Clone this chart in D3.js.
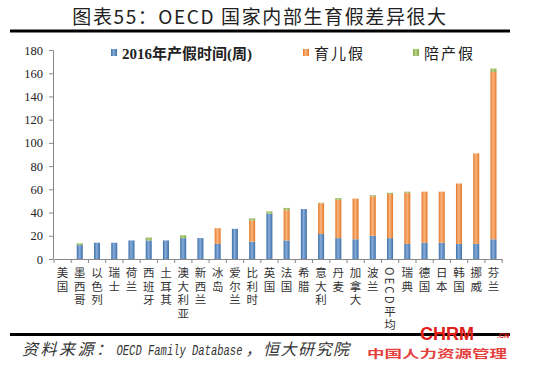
<!DOCTYPE html>
<html>
<head>
  <meta charset="utf-8">
  <script src="https://d3js.org/d3.v7.min.js"></script>
  <style>
    body { margin: 0; background: #fff; }
    svg { display: block; }
  </style>
</head>
<body>
<div id="chart"></div>
<script>
  // data (weeks)
  var countries = ["美国","墨西哥","以色列","瑞士","荷兰","西班牙","土耳其","澳大利亚","新西兰","冰岛","爱尔兰","比利时","英国","法国","希腊","意大利","丹麦","加拿大","波兰","OECD平均","瑞典","德国","日本","韩国","挪威","芬兰"];
  var maternity = [0,12,14,14,16,16,16,18,18,13,26,15,39,16,43,21.5,18,17,20,18,13,14,14,13,13,17];
  var parental  = [0,0,0,0,0,0,0,0,0,13.5,0,18,0,26,0,26.5,33,35,34,38,44,44,44,52,78,144];
  var paternity = [0,1.5,0,0,0,2.5,0,2.5,0,0,0,2,2,2,0,0.5,1.5,0,1,1,1,0,0,0,0,3];
  var seriesNames = ["2016年产假时间(周)", "育儿假", "陪产假"];
  var yTicks = [0,20,40,60,80,100,120,140,160,180];

  var W = 550, H = 371;
  var svg = d3.select("#chart").append("svg").attr("width", W).attr("height", H);

  // gradients to mimic the shaded excel bars
  var colors = [["#3d6fa8", "#86acd9"], ["#e4782a", "#fbb57d"], ["#86a84a", "#b9d386"]];
  var defs = svg.append("defs");
  colors.forEach(function(c, i) {
    var gr = defs.append("linearGradient").attr("id", "g" + i)
      .attr("x1", 0).attr("x2", 1).attr("y1", 0).attr("y2", 0);
    gr.append("stop").attr("offset", "0%").attr("stop-color", c[0]);
    gr.append("stop").attr("offset", "45%").attr("stop-color", c[1]);
    gr.append("stop").attr("offset", "100%").attr("stop-color", c[0]);
  });

  // title + rules
  svg.append("text").attr("x", 260).attr("y", 24).attr("text-anchor", "middle")
    .style("font-family", "'Noto Sans CJK SC'").style("font-size", "19px")
    .style("letter-spacing", "1.6px").attr("fill", "#222")
    .text("图表55：OECD 国家内部生育假差异很大");
  svg.append("rect").attr("x", 10).attr("y", 29.5).attr("width", 500).attr("height", 3).attr("fill", "#000");
  svg.append("rect").attr("x", 10).attr("y", 333).attr("width", 500).attr("height", 3).attr("fill", "#000");

  // scales
  var x = d3.scaleBand().domain(countries).range([54, 502]).paddingInner(0.65).paddingOuter(0.32);
  var y = d3.scaleLinear().domain([0, 180]).range([259, 50]);

  var rows = countries.map(function(c, i) {
    return {name: c, m: maternity[i], p: parental[i], f: paternity[i]};
  });
  var stack = d3.stack().keys(["m", "p", "f"])(rows);

  var g = svg.append("g");
  stack.forEach(function(layer, i) {
    g.selectAll(null).data(layer.filter(function(d) { return d[1] > d[0]; })).enter().append("rect")
      .attr("x", function(d) { return x(d.data.name); })
      .attr("width", x.bandwidth())
      .attr("y", function(d) { return y(d[1]); })
      .attr("height", function(d) { return y(d[0]) - y(d[1]); })
      .attr("fill", "url(#g" + i + ")");
  });

  // y axis
  var yAxis = svg.append("g").attr("transform", "translate(53,0)")
    .call(d3.axisLeft(y).tickValues(yTicks).tickSize(4).tickPadding(6));
  // x axis with ticks at band boundaries
  var xAxis = svg.append("g").attr("transform", "translate(0,259)")
    .call(d3.axisBottom(x).tickSize(0).tickFormat(""));
  var step = x.step();
  svg.append("g").selectAll("line").data(d3.range(countries.length + 1)).enter().append("line")
    .attr("x1", function(i) { return 54 + i * step; })
    .attr("x2", function(i) { return 54 + i * step; })
    .attr("y1", 259).attr("y2", 263).attr("stroke", "#888");
  [yAxis, xAxis].forEach(function(a) {
    a.select(".domain").attr("stroke", "#888");
    a.selectAll(".tick line").attr("stroke", "#888");
    a.selectAll("text").style("font-family", "'Liberation Serif'").style("font-size", "12.5px").attr("fill", "#222");
  });

  // vertical category labels (one text each, vertical writing mode)
  var lab = svg.append("g").style("font-family", "'Noto Sans CJK SC'").style("font-size", "11.5px").attr("fill", "#333");
  lab.selectAll("text").data(countries).enter().append("text")
    .attr("x", function(c) { return x(c) + x.bandwidth() / 2; })
    .attr("y", 267)
    .style("writing-mode", "vertical-rl")
    .style("letter-spacing", "2px")
    .text(function(c) { return c; });

  // legend
  var legX = [111, 303, 413];
  var leg = svg.append("g");
  seriesNames.forEach(function(s, i) {
    leg.append("rect").attr("x", legX[i]).attr("y", 49).attr("width", 6).attr("height", 7).attr("fill", "url(#g" + i + ")");
    leg.append("text").attr("x", legX[i] + 11).attr("y", 59)
      .style("font-family", "'Liberation Serif','Noto Sans CJK SC'")
      .style("font-size", "15px").style("font-weight", i === 0 ? "bold" : "normal")
      .style("letter-spacing", i === 0 ? "0px" : "2px")
      .attr("fill", "#222").text(s);
  });

  // source line, three pieces placed one after another
  var sx = 22;
  var s1 = svg.append("text").attr("x", sx).attr("y", 355)
    .style("font-family", "'Noto Sans CJK SC'").style("font-size", "16px").style("font-style", "italic")
    .style("letter-spacing", "2.5px").attr("fill", "#333").text("资料来源：");
  sx += s1.node().getComputedTextLength() + 2;
  // narrow monospace latin, squeezed horizontally
  var s2 = svg.append("text").attr("transform", "translate(" + sx + ",355) scale(0.7,1)")
    .style("font-family", "'Liberation Mono'").style("font-size", "15px").style("font-style", "italic")
    .attr("fill", "#333").text("OECD Family Database");
  sx += s2.node().getComputedTextLength() * 0.7 + 3;
  svg.append("text").attr("x", sx).attr("y", 355)
    .style("font-family", "'Noto Sans CJK SC'").style("font-size", "16px").style("font-style", "italic")
    .style("letter-spacing", "1.5px").attr("fill", "#333").text("，恒大研究院");

  // watermark
  svg.append("text").attr("x", 420).attr("y", 340).style("font-family", "'Liberation Sans'")
    .style("font-weight", "bold").style("font-size", "18px").attr("fill", "#e0201b").text("CHRM");
  svg.append("text").attr("x", 497).attr("y", 338).style("font-family", "'Liberation Sans'")
    .style("font-weight", "bold").style("font-size", "7px").attr("fill", "#e0201b").text(".CN");
  svg.append("text").attr("x", 367).attr("y", 358).style("font-family", "'Noto Sans CJK SC'")
    .style("font-weight", "bold").style("font-size", "11px").attr("fill", "#e0201b").attr("opacity", 0.85)
    .attr("textLength", 140).attr("lengthAdjust", "spacingAndGlyphs")
    .text("中国人力资源管理");
</script>
</body>
</html>
